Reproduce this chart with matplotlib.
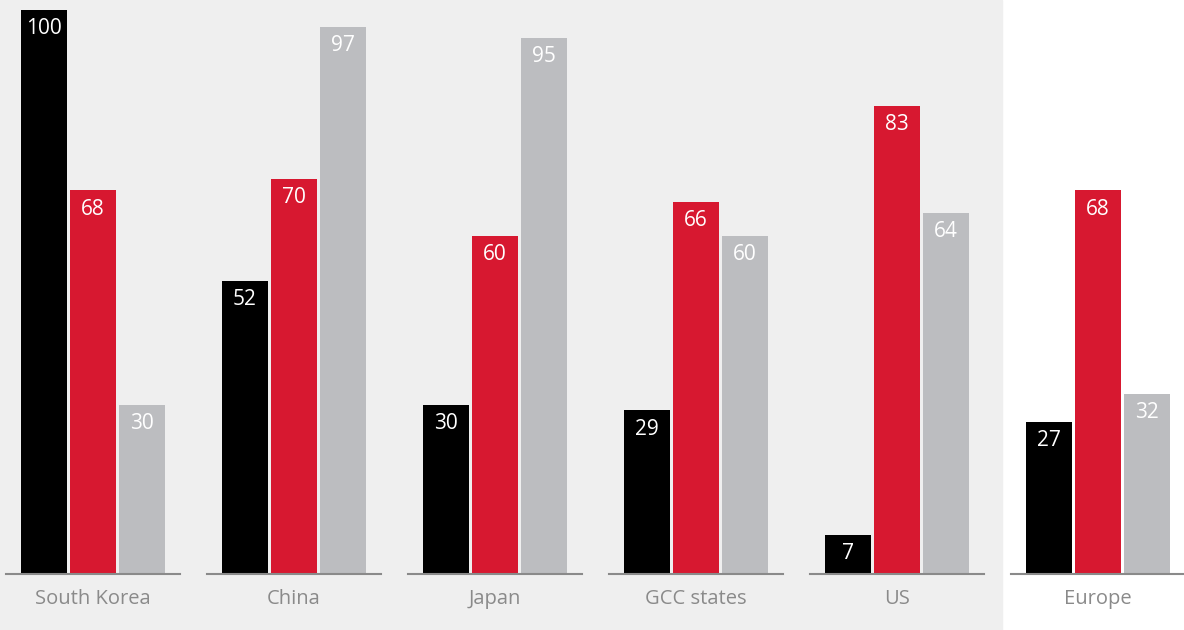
import numpy as np
import matplotlib
matplotlib.use("Agg")
import matplotlib.pyplot as plt

categories = ["South Korea", "China", "Japan", "GCC states", "US", "Europe"]
series_black = [100, 52, 30, 29, 7, 27]
series_red = [68, 70, 60, 66, 83, 68]
series_grey = [30, 97, 95, 60, 64, 32]

colors = ["#000000", "#d71830", "#bcbdc0"]
plt.rcParams["font.family"] = ["Open Sans", "DejaVu Sans"]

fig = plt.figure(figsize=(11.84, 6.3), dpi=100)
ax = fig.add_axes([0, 0, 1, 1])
ax.set_xlim(0, 1184)
ax.set_ylim(-56 / 564 * 100, 100 + 10 / 564 * 100)
ax.axis("off")

# shaded panel behind the first five groups
ax.axvspan(0, 1002, color="#efefef", zorder=0)

centers = 93 + 201 * np.arange(len(categories))
width = 46
step = 49

for k, vals in enumerate([series_black, series_red, series_grey]):
    xs = centers + (k - 1) * step
    ax.bar(xs, vals, width=width, color=colors[k], zorder=2)
    for x, v in zip(xs, vals):
        ax.text(x, v - 3.3, str(v), ha="center", va="center",
                color="white", fontsize=15, zorder=3)

for c, name in zip(centers, categories):
    ax.plot([c - 87, c + 87], [0, 0], color="#8a8a8a", lw=1.5, zorder=3)
    ax.text(c, -4.5, name, ha="center", va="center", color="#8a8a8a",
            fontsize=14.5)

fig.savefig("out.png", dpi=100)
